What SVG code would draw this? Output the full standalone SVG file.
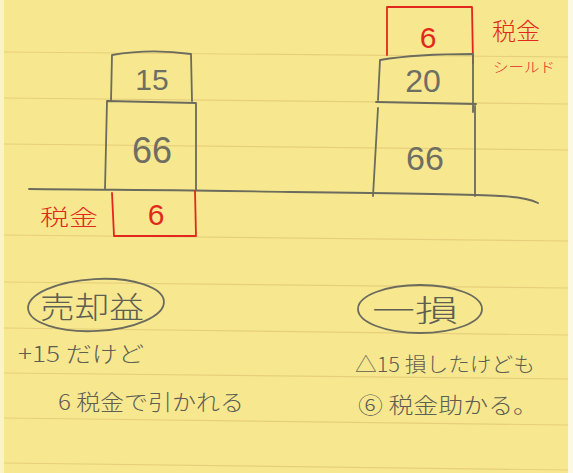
<svg xmlns="http://www.w3.org/2000/svg" width="573" height="473" viewBox="0 0 573 473">
<style>
.rule{stroke:#e6cf7c;stroke-width:1.2;fill:none}
.pen{stroke:#6b6b5e;stroke-width:1.8;fill:none;stroke-linecap:round;stroke-linejoin:round}
.red{stroke:#e2281c;stroke-width:1.8;fill:none;stroke-linecap:round;stroke-linejoin:round}
.num{font-family:"Liberation Sans","DejaVu Sans",sans-serif;fill:#6e6e62;text-anchor:middle}
.rnum{font-family:"Liberation Sans","DejaVu Sans",sans-serif;fill:#e2281c;text-anchor:middle}
.jp{font-family:"Noto Sans CJK JP","Noto Sans",sans-serif;fill:#5e5e52;font-weight:300}
.rjp{font-family:"Noto Sans CJK JP","Noto Sans",sans-serif;fill:#e2281c;font-weight:300}
</style>
<rect width="573" height="473" fill="#f7e88f"/>
<rect x="0" y="0" width="4" height="473" fill="#fbf3c8"/>
<rect x="568" y="0" width="5" height="473" fill="#fdf8e0"/>
<g id="rules">
<path class="rule" d="M4 52 L568 57"/>
<path class="rule" d="M4 98 L568 104"/>
<path class="rule" d="M4 144 L568 150"/>
<path class="rule" d="M4 235 L568 241"/>
<path class="rule" d="M4 282 L568 288"/>
<path class="rule" d="M4 328 L568 335"/>
<path class="rule" d="M4 373 L568 379"/>
<path class="rule" d="M4 418 L568 425"/>
<path class="rule" d="M4 463 L568 470"/>
</g>
<g id="connectors">
<path class="pen" d="M29 189 C120 190 200 190 290 192 C380 193 470 194 500 196 C520 197 532 200 538 203"/>
</g>
<g id="left-15">
<path class="pen" d="M111 101 L112 55 C140 50 170 51 191 54 L192 101"/>
<text class="num" x="152" y="90" font-size="30">15</text>
</g>
<g id="left-66">
<path class="pen" d="M105 189 L107 101 L196 103 L196 190"/>
<text class="num" x="152" y="163" font-size="36">66</text>
</g>
<g id="left-tax">
<path class="red" d="M112 193 L114 236 L196 236 L195 191"/>
<text class="rnum" x="156" y="225" font-size="30">6</text>
<text class="rjp" x="40" y="225" font-size="22" textLength="58" lengthAdjust="spacingAndGlyphs">税金</text>
</g>
<g id="right-tax">
<path class="red" d="M387 55 L387 7 L472 7 L473 63"/>
<text class="rnum" x="428" y="48" font-size="30">6</text>
<text class="rjp" x="492" y="40" font-size="24" textLength="48" lengthAdjust="spacingAndGlyphs">税金</text>
<text class="rjp" x="493" y="72" font-size="14" textLength="62" lengthAdjust="spacingAndGlyphs">シールド</text>
</g>
<g id="right-20">
<path class="pen" d="M378 100 L380 60 C410 55 440 54 473 54 L473 112"/>
<path class="pen" d="M376 102 L476 104"/>
<text class="num" x="423" y="92" font-size="32">20</text>
</g>
<g id="right-66">
<path class="pen" d="M373 196 L378 108 M475 106 L475 196"/>
<text class="num" x="425" y="170" font-size="34">66</text>
</g>
<g id="gain">
<ellipse class="pen" cx="96" cy="305" rx="68" ry="26" transform="rotate(-3 96 305)"/>
<text class="jp" x="40" y="318" font-size="30" textLength="104" lengthAdjust="spacingAndGlyphs">売却益</text>
</g>
<g id="gain-note">
<text class="jp" x="18" y="362" font-size="22" textLength="126" lengthAdjust="spacingAndGlyphs">+15 だけど</text>
<text class="jp" x="58" y="410" font-size="22" textLength="186" lengthAdjust="spacingAndGlyphs">6 税金で引かれる</text>
</g>
<g id="loss">
<ellipse class="pen" cx="420" cy="309" rx="62" ry="24"/>
<text class="jp" x="372" y="321" font-size="30" textLength="86" lengthAdjust="spacingAndGlyphs">一損</text>
</g>
<g id="loss-note">
<text class="jp" x="355" y="372" font-size="20" textLength="180" lengthAdjust="spacingAndGlyphs">△15 損したけども</text>
<text class="jp" x="358" y="413" font-size="22" textLength="180" lengthAdjust="spacingAndGlyphs">⑥ 税金助かる。</text>
</g>
</svg>
